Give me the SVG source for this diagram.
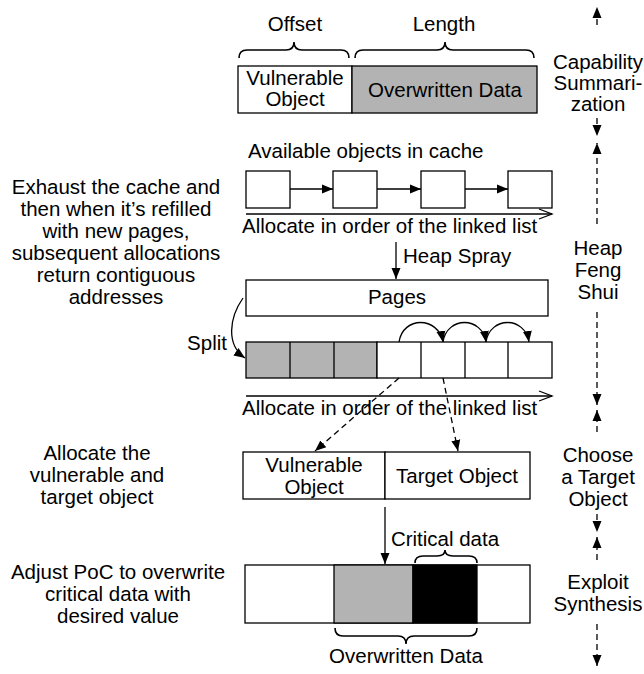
<svg xmlns="http://www.w3.org/2000/svg" width="644" height="674" viewBox="0 0 644 674">
<style>
text{font-family:"Liberation Sans",Arial,Helvetica,sans-serif;font-size:20.5px;fill:#000}
.m{text-anchor:middle}
.box{fill:#fff;stroke:#000;stroke-width:1.3}
.gray{fill:#b3b3b3;stroke:#000;stroke-width:1.3}
.blk{fill:#000;stroke:#000;stroke-width:1.3}
.ln{fill:none;stroke:#000;stroke-width:1.3}
.dash{fill:none;stroke:#000;stroke-width:1.3;stroke-dasharray:6 4}
.brace{fill:none;stroke:#000;stroke-width:1.6}
</style>
<defs>
<marker id="tri" markerUnits="userSpaceOnUse" markerWidth="12" markerHeight="10" refX="11" refY="5" orient="auto">
<path d="M0,0.5 L11,5 L0,9.5 z" fill="#000"/>
</marker>
<marker id="open" markerUnits="userSpaceOnUse" markerWidth="16" markerHeight="12" refX="14" refY="6" orient="auto">
<path d="M1,1 L14,6 L1,11" fill="none" stroke="#000" stroke-width="1.3"/>
</marker>
</defs>

<g id="capability">
<text class="m" x="295" y="31">Offset</text>
<text class="m" x="444" y="31">Length</text>
<path class="brace" d="M239,58 Q239,50 247,50 L286,50 Q294,50 294,42 Q294,50 302,50 L341,50 Q349,50 349,58"/>
<path class="brace" d="M355,58 Q355,50 363,50 L437,50 Q445,50 445,42 Q445,50 453,50 L526,50 Q534,50 534,58"/>
<rect class="box" x="238" y="66" width="114" height="47"/>
<rect class="gray" x="352" y="66" width="185" height="47"/>
<text class="m" x="295" y="85">Vulnerable</text>
<text class="m" x="295" y="106">Object</text>
<text class="m" x="445" y="97">Overwritten Data</text>
</g>

<g id="cache">
<text x="248" y="158">Available objects in cache</text>
<rect class="box" x="246" y="171" width="44" height="37"/>
<rect class="box" x="333" y="171" width="44" height="37"/>
<rect class="box" x="421" y="171" width="44" height="37"/>
<rect class="box" x="508" y="171" width="44" height="37"/>
<text x="242" y="233">Allocate in order of the linked list</text>
</g>

<g id="left-text">
<text class="m" x="116" y="194">Exhaust the cache and</text>
<text class="m" x="116" y="216">then when it’s refilled</text>
<text class="m" x="116" y="238">with new pages,</text>
<text class="m" x="116" y="260">subsequent allocations</text>
<text class="m" x="116" y="282">return contiguous</text>
<text class="m" x="116" y="304">addresses</text>
</g>

<g id="pages">
<text x="403" y="263">Heap Spray</text>
<rect class="box" x="246" y="280" width="302" height="36"/>
<text class="m" x="397" y="304">Pages</text>
<text x="227" y="350" style="text-anchor:end">Split</text>
</g>

<g id="split-row">
<rect class="gray" x="246" y="342" width="131" height="36"/>
<rect class="box" x="377" y="342" width="175" height="36"/>
<path class="ln" d="M290,342 V378 M334,342 V378 M421,342 V378 M465,342 V378 M508,342 V378"/>
<text x="242" y="415">Allocate in order of the linked list</text>
</g>

<g id="allocate-text">
<text class="m" x="97" y="460">Allocate the</text>
<text class="m" x="97" y="482">vulnerable and</text>
<text class="m" x="97" y="504">target object</text>
</g>

<g id="objects">
<rect class="box" x="243" y="452" width="142" height="47"/>
<rect class="box" x="385" y="452" width="145" height="47"/>
<text class="m" x="314" y="472">Vulnerable</text>
<text class="m" x="314" y="494">Object</text>
<text class="m" x="457" y="483">Target Object</text>
</g>

<g id="exploit">
<text class="m" x="445" y="546">Critical data</text>
<path class="brace" d="M415,563 Q415,556 423,556 L437,556 Q445,556 445,550 Q445,556 453,556 L469,556 Q477,556 477,563"/>
<rect class="box" x="245" y="565" width="285" height="58"/>
<rect class="gray" x="334" y="565" width="79" height="58"/>
<rect class="blk" x="413" y="565" width="64" height="58"/>
<path class="brace" d="M335,628 Q335,636 343,636 L398,636 Q406,636 406,644 Q406,636 414,636 L469,636 Q477,636 477,628"/>
<text class="m" x="406" y="663">Overwritten Data</text>
<text class="m" x="118" y="579">Adjust PoC to overwrite</text>
<text class="m" x="118" y="601">critical data with</text>
<text class="m" x="118" y="623">desired value</text>
</g>

<g id="stages">
<text class="m" x="598" y="69">Capability</text>
<text class="m" x="598" y="90">Summari-</text>
<text class="m" x="598" y="111">zation</text>
<text class="m" x="598" y="255">Heap</text>
<text class="m" x="598" y="277">Feng</text>
<text class="m" x="598" y="299">Shui</text>
<text class="m" x="598" y="462">Choose</text>
<text class="m" x="598" y="484">a Target</text>
<text class="m" x="598" y="506">Object</text>
<text class="m" x="598" y="589">Exploit</text>
<text class="m" x="598" y="611">Synthesis</text>
</g>

<g id="connectors">
<line class="ln" x1="290" y1="189" x2="333" y2="189" marker-end="url(#tri)"/>
<line class="ln" x1="377" y1="189" x2="421" y2="189" marker-end="url(#tri)"/>
<line class="ln" x1="465" y1="189" x2="508" y2="189" marker-end="url(#tri)"/>
<line class="ln" x1="246" y1="214" x2="552" y2="214" marker-end="url(#open)"/>
<line class="ln" x1="396" y1="242" x2="396" y2="279" marker-end="url(#tri)"/>
<path class="ln" d="M243,298 C229,318 226,345 245,358" marker-end="url(#tri)"/>
<path class="ln" d="M399,342 C403,316 438,316 443,342" marker-end="url(#tri)"/>
<path class="ln" d="M443,342 C447,316 482,316 486,342" marker-end="url(#tri)"/>
<path class="ln" d="M486,342 C490,316 525,316 529,342" marker-end="url(#tri)"/>
<line class="ln" x1="246" y1="396" x2="552" y2="396" marker-end="url(#open)"/>
<line class="dash" x1="399" y1="378" x2="315" y2="451" marker-end="url(#tri)"/>
<line class="dash" x1="443" y1="378" x2="458" y2="451" marker-end="url(#tri)"/>
<line class="ln" x1="385" y1="507" x2="385" y2="564" marker-end="url(#tri)"/>
<line class="dash" x1="597" y1="25" x2="597" y2="7" marker-end="url(#tri)"/>
<line class="dash" x1="597" y1="118" x2="597" y2="136" marker-end="url(#tri)"/>
<line class="dash" x1="597" y1="224" x2="597" y2="143" marker-end="url(#tri)"/>
<line class="dash" x1="597" y1="312" x2="597" y2="405" marker-end="url(#tri)"/>
<line class="dash" x1="597" y1="432" x2="597" y2="410" marker-end="url(#tri)"/>
<line class="dash" x1="597" y1="514" x2="597" y2="532" marker-end="url(#tri)"/>
<line class="dash" x1="597" y1="560" x2="597" y2="537" marker-end="url(#tri)"/>
<line class="dash" x1="597" y1="624" x2="597" y2="666" marker-end="url(#tri)"/>
</g>
</svg>
